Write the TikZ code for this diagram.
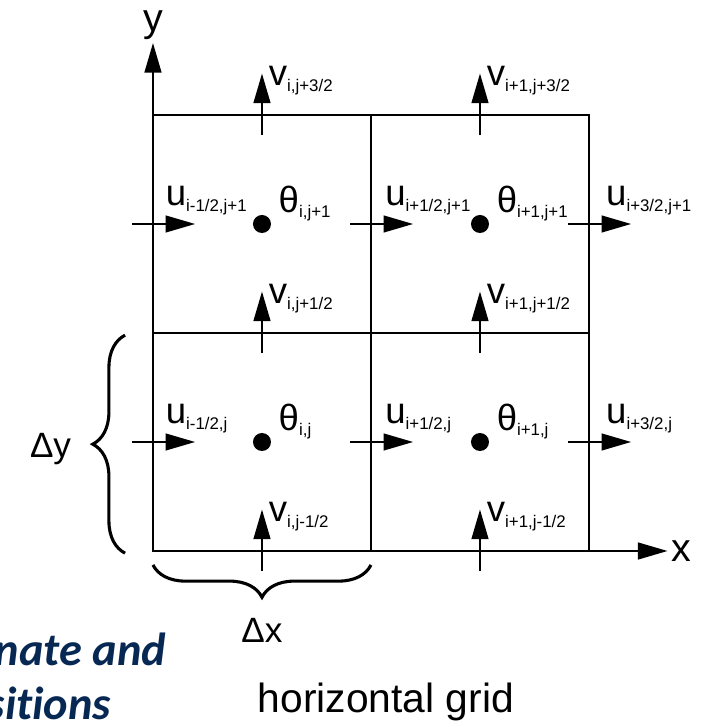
\documentclass[tikz,border=0pt]{standalone}
\usepackage{fontspec}
\setmainfont{Liberation Sans}
\newfontfamily\slidefont[Ligatures={NoCommon}]{Carlito}
\usetikzlibrary{arrows.meta,decorations.pathreplacing}
\usepackage{xcolor}
\definecolor{slidenavy}{RGB}{8,40,84}
\newcommand{\fieldlbl}[2]{#1\raisebox{-4pt}{\fontsize{12}{12}\selectfont#2}}

\begin{document}
\begin{tikzpicture}[x=5.45cm,y=5.45cm,>={Triangle[length=21pt,width=12pt]},line width=1.2pt,
  font=\fontsize{26}{28}\selectfont,
  lbl/.style={anchor=base west,inner sep=0pt}]
\useasboundingbox (-0.7018,-0.7936) rectangle (2.5183,2.5275);
\clip (-0.7018,-0.7936) rectangle (2.5183,2.5275);
% cells
\draw (0,0) rectangle (2,2);
\draw (1,0) -- (1,2);
\draw (0,1) -- (2,1);
% axes
\draw[->] (0,0) -- (0,2.33) node[above,inner sep=2pt,font=\fontsize{28}{30}\selectfont] (ylbl) {y};
\draw[->] (0,0) -- (2.36,0) node[right,inner sep=2pt,font=\fontsize{28}{30}\selectfont] (xlbl) {x};
% v on the horizontal faces
\draw[->] (0.5,-0.092) -- (0.5,0.19);
\node[lbl] (v1) at (0.528,0.135) {\fieldlbl{v}{i,j-1/2}};
\draw[->] (1.5,-0.092) -- (1.5,0.19);
\node[lbl] (v2) at (1.528,0.135) {\fieldlbl{v}{i+1,j-1/2}};
\draw[->] (0.5,0.908) -- (0.5,1.19);
\node[lbl] (v3) at (0.528,1.135) {\fieldlbl{v}{i,j+1/2}};
\draw[->] (1.5,0.908) -- (1.5,1.19);
\node[lbl] (v4) at (1.528,1.135) {\fieldlbl{v}{i+1,j+1/2}};
\draw[->] (0.5,1.908) -- (0.5,2.19);
\node[lbl] (v5) at (0.528,2.135) {\fieldlbl{v}{i,j+3/2}};
\draw[->] (1.5,1.908) -- (1.5,2.19);
\node[lbl] (v6) at (1.528,2.135) {\fieldlbl{v}{i+1,j+3/2}};
% u on the vertical faces
\draw[->] (-0.096,0.5) -- (0.193,0.5);
\node[lbl] (u1) at (0.055,0.583) {\fieldlbl{u}{i-1/2,j}};
\draw[->] (0.904,0.5) -- (1.193,0.5);
\node[lbl] (u2) at (1.062,0.583) {\fieldlbl{u}{i+1/2,j}};
\draw[->] (1.904,0.5) -- (2.193,0.5);
\node[lbl] (u3) at (2.075,0.583) {\fieldlbl{u}{i+3/2,j}};
\draw[->] (-0.096,1.5) -- (0.193,1.5);
\node[lbl] (u4) at (0.055,1.583) {\fieldlbl{u}{i-1/2,j+1}};
\draw[->] (0.904,1.5) -- (1.193,1.5);
\node[lbl] (u5) at (1.062,1.583) {\fieldlbl{u}{i+1/2,j+1}};
\draw[->] (1.904,1.5) -- (2.193,1.5);
\node[lbl] (u6) at (2.075,1.583) {\fieldlbl{u}{i+3/2,j+1}};
% theta at the centres
\fill (0.5,0.5) circle (6.4pt);
\node[lbl] (t1) at (0.573,0.555) {\fieldlbl{θ}{i,j}};
\fill (1.5,0.5) circle (6.4pt);
\node[lbl] (t2) at (1.573,0.555) {\fieldlbl{θ}{i+1,j}};
\fill (0.5,1.5) circle (6.4pt);
\node[lbl] (t3) at (0.573,1.555) {\fieldlbl{θ}{i,j+1}};
\fill (1.5,1.5) circle (6.4pt);
\node[lbl] (t4) at (1.573,1.555) {\fieldlbl{θ}{i+1,j+1}};
% spacing
\draw[decorate,decoration={brace,amplitude=23pt},line width=2.2pt] (-0.128,-0.01) -- (-0.128,0.99);
\node[anchor=base east,inner sep=0pt,font=\fontsize{25}{27}\selectfont] (dy) at (-0.372,0.431) {Δy};
\draw[decorate,decoration={brace,amplitude=23pt,mirror},line width=2.2pt] (0,-0.064) -- (1,-0.064);
\node[anchor=base,inner sep=0pt,font=\fontsize{25}{27}\selectfont] (dx) at (0.5,-0.422) {Δx};
\node[anchor=base west,inner sep=0pt,font=\fontsize{29}{31}\selectfont] (cap) at (0.477,-0.743) {horizontal grid};
% slide text, cut at the left edge
\node[anchor=base east,inner sep=0pt,text=slidenavy,font=\slidefont\bfseries\itshape\fontsize{33}{35}\selectfont] (note1) at (0.064,-0.523) {Alternate and};
\node[anchor=base east,inner sep=0pt,text=slidenavy,font=\slidefont\bfseries\itshape\fontsize{33}{35}\selectfont] (note2) at (-0.188,-0.775) {positions};
\end{tikzpicture}
\end{document}
